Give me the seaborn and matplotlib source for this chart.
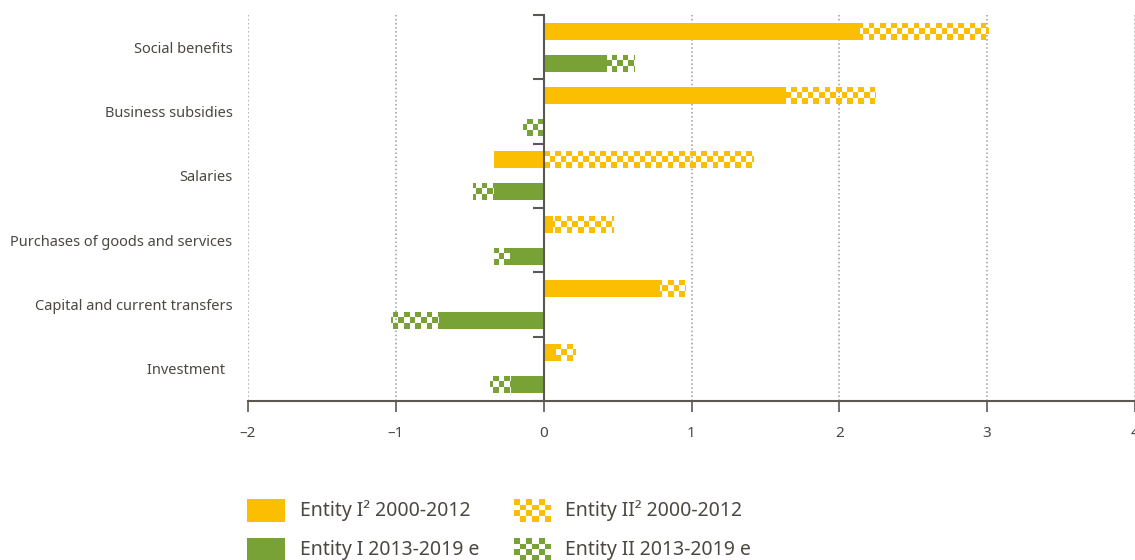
import numpy as np
import pandas as pd
import matplotlib
matplotlib.use("Agg")
import matplotlib.pyplot as plt
from matplotlib.patches import Rectangle
import seaborn as sns

# values (percentage points)
categories = ["Social benefits", "Business subsidies", "Salaries",
              "Purchases of goods and services", "Capital and current transfers",
              "Investment  "]
periods = ["2000-2012", "2013-2019 e"]
entity1_2000 = [2.14, 1.64, -0.335, 0.062, 0.79, 0.085]
entity2_2000 = [0.87, 0.60, 1.415, 0.405, 0.165, 0.125]
entity1_2013 = [0.427, 0.0, -0.333, -0.23, -0.705, -0.22]
entity2_2013 = [0.185, -0.14, -0.142, -0.105, -0.33, -0.14]
xticks = [-2, -1, 0, 1, 2, 3, 4]
legend_labels = ["Entity I\u00b2 2000-2012", "Entity II\u00b2 2000-2012",
                 "Entity I 2013-2019 e", "Entity II 2013-2019 e"]

YELLOW = "#FBBE00"
GREEN = "#78A136"
TEXT = "#4b4842"
AXIS = "#5b5852"

sns.set_theme(style="white")
plt.rcParams["font.family"] = ["Noto Sans", "DejaVu Sans"]


def outer_end(a, b):
    # Entity II stacks on Entity I when both share a sign, otherwise starts at 0
    return a + b if a * b >= 0 else b


rows = []
for i, cat in enumerate(categories):
    for period, e1, e2 in [(periods[0], entity1_2000, entity2_2000),
                           (periods[1], entity1_2013, entity2_2013)]:
        rows.append({"category": cat, "period": period,
                     "entity1": e1[i], "outer": outer_end(e1[i], e2[i])})
df = pd.DataFrame(rows)

fig = plt.figure(figsize=(11.35, 5.6), dpi=100)
ax = fig.add_axes([248 / 1135, 1 - 401 / 560, 887 / 1135, 386 / 560])
palette = {periods[0]: YELLOW, periods[1]: GREEN}

# checkered (Entity II) extent first, solid Entity I drawn over it
sns.barplot(data=df, y="category", x="outer", hue="period", palette=palette,
            orient="h", width=1.0, gap=0.47, errorbar=None, saturation=1,
            legend=False, ax=ax)
n_checker = len(ax.patches)
sns.barplot(data=df, y="category", x="entity1", hue="period", palette=palette,
            orient="h", width=1.0, gap=0.47, errorbar=None, saturation=1,
            legend=False, ax=ax)

ax.set_xlim(-2, 4)
ax.set_ylim(5.5, -0.5)
px_per_unit = 887 / 6
cell = 5.6 / px_per_unit


def checker_img(color, nrows, ncols):
    mask = np.add.outer(np.arange(nrows), np.arange(ncols)) % 2 == 0
    img = np.zeros((nrows, ncols, 4))
    img[mask] = matplotlib.colors.to_rgba(color)
    return img


for p in ax.patches[:n_checker]:
    color = p.get_facecolor()
    x0, w, y0, h = p.get_x(), p.get_width(), p.get_y(), p.get_height()
    p.set_facecolor("none")
    p.set_edgecolor("none")
    if w == 0:
        continue
    ncols = int(np.ceil(abs(w) / cell)) + 1
    img = checker_img(color, 3, ncols)
    x1 = x0 + np.sign(w) * ncols * cell
    im = ax.imshow(img, extent=(x0, x1, y0 + h, y0), aspect="auto",
                   interpolation="nearest", zorder=1.5)
    im.set_clip_path(p)

for p in ax.patches[n_checker:]:
    p.set_zorder(2)
    p.set_edgecolor("none")

ax.set_xlim(-2, 4)
ax.set_ylim(5.5, -0.5)
ax.set_aspect("auto")

# axes styling
for s in ["top", "right"]:
    ax.spines[s].set_visible(False)
ax.spines["left"].set_position(("data", 0))
ax.spines["left"].set_color(AXIS)
ax.spines["left"].set_linewidth(1.5)
ax.spines["left"].set_zorder(3)
ax.spines["bottom"].set_color(AXIS)
ax.spines["bottom"].set_linewidth(1.5)

ax.set_xticks(xticks)
ax.set_xticklabels([f"{t}".replace("-", "\u2013") for t in xticks])
ax.tick_params(axis="x", direction="out", length=8, width=1.2, color=AXIS,
               pad=10, labelsize=11, labelcolor=TEXT, bottom=True)
ax.set_yticks(range(len(categories)))
ax.set_yticklabels(categories)
ax.tick_params(axis="y", which="major", length=0, pad=224, labelsize=10.5,
               labelcolor=TEXT)
ax.set_yticks(np.arange(-0.5, len(categories), 1.0), minor=True)
ax.tick_params(axis="y", which="minor", direction="out", length=8, width=1.5,
               color=AXIS, left=True)
ax.xaxis.grid(True, linestyle=":", color="#9a9a9a", linewidth=1.1)
ax.yaxis.grid(False)
ax.set_axisbelow(True)
ax.set_xlabel("")
ax.set_ylabel("")

# legend drawn in pixel coordinates
lax = fig.add_axes([0, 0, 1, 1], zorder=-1)
lax.set_xlim(0, 1135)
lax.set_ylim(560, 0)
lax.axis("off")
swatches = [(247, 499, YELLOW, False), (514, 499, YELLOW, True),
            (247, 538, GREEN, False), (514, 538, GREEN, True)]
text_x = [300, 565, 300, 565]
for (sx, sy, col, chk), label, tx in zip(swatches, legend_labels, text_x):
    if chk:
        lax.imshow(checker_img(col, 4, 6), extent=(sx, sx + 37, sy + 23, sy),
                   aspect="auto", interpolation="nearest")
    else:
        lax.add_patch(Rectangle((sx, sy), 38, 23, facecolor=col, edgecolor="none"))
    lax.text(tx, sy + 12, label, fontsize=14, color=TEXT, va="center", ha="left")
lax.set_xlim(0, 1135)
lax.set_ylim(560, 0)

fig.savefig("out.png", dpi=100)
